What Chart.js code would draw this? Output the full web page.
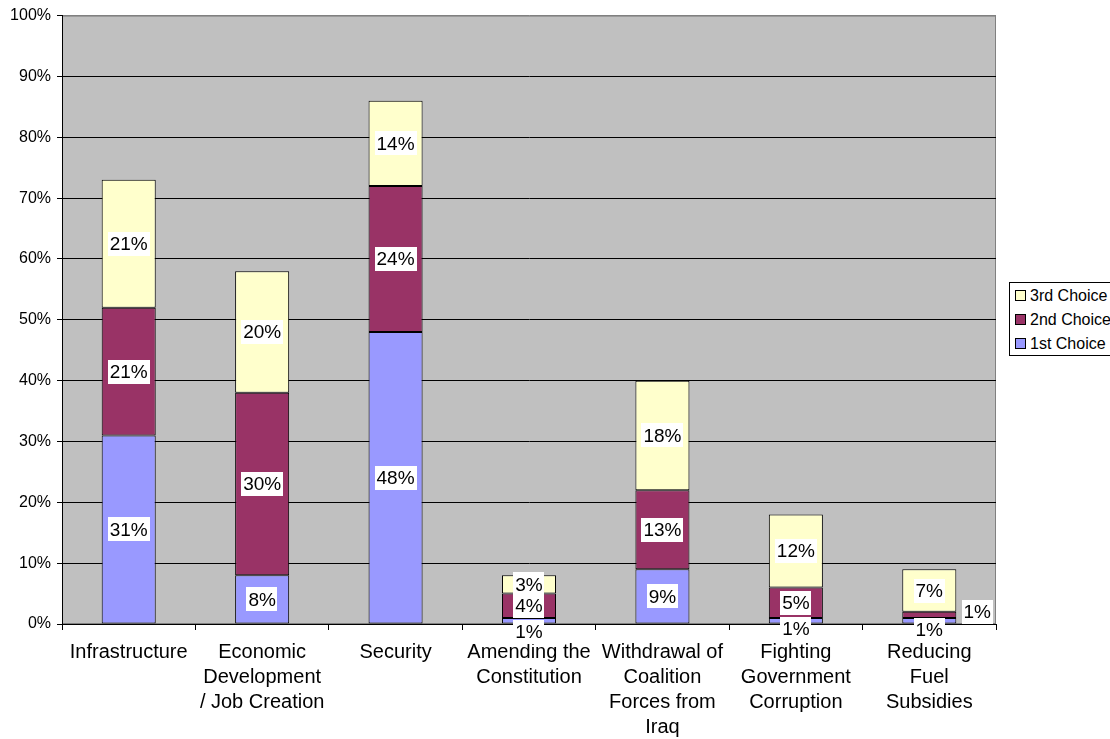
<!DOCTYPE html>
<html>
<head>
<meta charset="utf-8">
<script src="https://cdn.jsdelivr.net/npm/chart.js@4"></script>
<style>
  body { margin: 0; background: #fff; font-family: "Liberation Sans", Arial, sans-serif; }
  #wrap { position: relative; width: 1110px; height: 739px; }
  #legend { position: absolute; left: 1009px; top: 282px; width: 120px; height: 72px;
            border: 1px solid #000; background: #fff; font-size: 16px; }
  .item { position: absolute; left: 5px; height: 20px; line-height: 20px; white-space: nowrap; }
  .sw { display: inline-block; width: 9px; height: 9px; border: 1px solid #000; margin-right: 4px; vertical-align: 0px; }
</style>
</head>
<body>
<div id="wrap">
  <canvas id="myChart" width="1110" height="739"></canvas>
  <div id="legend"></div>
</div>
<script>
// Categorias del eje x
const categories = [
  'Infrastructure',
  ['Economic', 'Development', '/ Job Creation'],
  'Security',
  ['Amending the', 'Constitution'],
  ['Withdrawal of', 'Coalition', 'Forces from', 'Iraq'],
  ['Fighting', 'Government', 'Corruption'],
  ['Reducing', 'Fuel', 'Subsidies'],
];
const firstChoice = [31, 8, 48, 1, 9, 1, 1];
const secondChoice = [21, 30, 24, 4, 13, 5, 1];
const thirdChoice = [21, 20, 14, 3, 18, 12, 7];
const yTicks = [0, 10, 20, 30, 40, 50, 60, 70, 80, 90, 100];

// etiquetas que Excel corrio de lugar para que no se encimen
const labelShift = {
  '0,3': [0, 11],
  '0,5': [0, 8],
  '0,6': [0, 9],
  '1,6': [48, -3],
};

const plotBg = {
  id: 'plotBg',
  beforeDraw(chart) {
    const a = chart.chartArea, ctx = chart.ctx;
    ctx.save();
    ctx.fillStyle = '#C0C0C0';
    ctx.fillRect(a.left, a.top, a.right - a.left, a.bottom - a.top);
    ctx.strokeStyle = '#808080';
    ctx.lineWidth = 1;
    ctx.strokeRect(a.left + 0.5, a.top + 0.5, a.right - a.left - 1, a.bottom - a.top - 1);
    ctx.restore();
  },
};

const boxLabels = {
  id: 'boxLabels',
  afterDatasetsDraw(chart) {
    const ctx = chart.ctx;
    ctx.save();
    ctx.font = '19px "Liberation Sans", Arial, sans-serif';
    ctx.textAlign = 'center';
    ctx.textBaseline = 'middle';
    chart.data.datasets.forEach((ds, d) => {
      chart.getDatasetMeta(d).data.forEach((bar, i) => {
        const txt = ds.data[i] + '%';
        const s = labelShift[d + ',' + i] || [0, 0];
        const x = bar.x + s[0];
        const y = (bar.y + bar.base) / 2 + s[1];
        const w = ctx.measureText(txt).width + 4;
        ctx.fillStyle = '#fff';
        ctx.fillRect(Math.round(x - w / 2), Math.round(y - 12), Math.round(w), 24);
        ctx.fillStyle = '#000';
        ctx.fillText(txt, x, y + 1);
      });
    });
    ctx.restore();
  },
};

const data = {
  labels: categories,
  datasets: [
    { label: '1st Choice', data: firstChoice, backgroundColor: '#9999FF' },
    { label: '2nd Choice', data: secondChoice, backgroundColor: '#993366' },
    { label: '3rd Choice', data: thirdChoice, backgroundColor: '#FFFFCC' },
  ].map(d => Object.assign(d, {
    borderColor: '#000', borderWidth: 1, borderSkipped: false,
    categoryPercentage: 1, barPercentage: 0.405,
  })),
};

const config = {
  type: 'bar',
  data: data,
  plugins: [plotBg, boxLabels],
  options: {
    responsive: false,
    animation: false,
    layout: { padding: { top: 14, right: 114, left: 0, bottom: 0 } },
    plugins: { legend: { display: false }, tooltip: { enabled: false } },
    scales: {
      x: {
        stacked: true,
        afterFit: s => { s.height = 115; },
        border: { color: '#000', width: 1 },
        grid: { offset: true, drawOnChartArea: false, color: '#000', tickLength: 6 },
        ticks: {
          color: '#000', maxRotation: 0, autoSkip: false, padding: 10,
          font: { family: '"Liberation Sans", Arial, sans-serif', size: 20, lineHeight: 1.25 },
        },
      },
      y: {
        stacked: true,
        min: 0, max: 100,
        afterFit: s => { s.width = 62; },
        afterBuildTicks: s => { s.ticks = yTicks.map(v => ({ value: v })); },
        border: { color: '#000', width: 1 },
        grid: {
          color: c => (c.tick && c.tick.value === 100 ? '#808080' : '#000'),
          tickColor: '#000', tickLength: 5,
        },
        ticks: {
          color: '#000', padding: 6,
          font: { family: '"Liberation Sans", Arial, sans-serif', size: 16 },
          callback: v => v + '%',
        },
      },
    },
  },
};

const myChart = new Chart(document.getElementById('myChart'), config);

// leyenda armada a mano, de arriba hacia abajo como en Excel
const legend = document.getElementById('legend');
data.datasets.slice().reverse().forEach((ds, k) => {
  const it = document.createElement('div');
  it.className = 'item';
  it.style.top = (3 + k * 24) + 'px';
  it.innerHTML = '<span class="sw" style="background:' + ds.backgroundColor + '"></span>' + ds.label;
  legend.appendChild(it);
});
</script>
</body>
</html>
